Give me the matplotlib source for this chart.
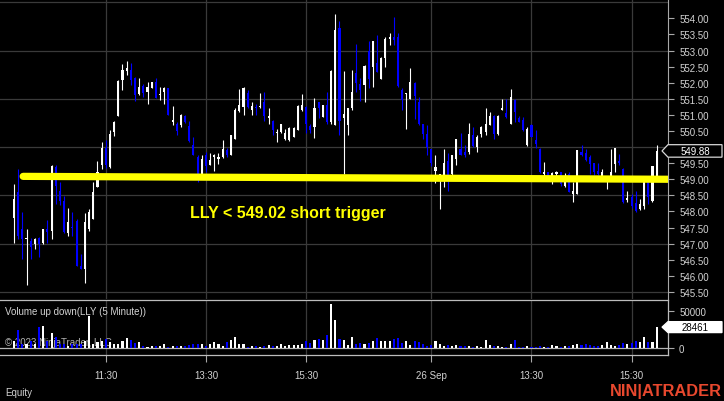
import matplotlib
matplotlib.use("Agg")
import matplotlib.pyplot as plt
import numpy as np
from matplotlib.patches import Polygon

plt.rcParams['font.family'] = ['Liberation Sans', 'DejaVu Sans']

# ---------------- data (LLY, 5 minute bars, 25-26 Sep) ----------------
opens = [
    547.81, 548.61, 547.45, 547.14, 547.08, 546.98, 547.16, 547.03, 547.47, 547.40,
    549.37, 548.65, 548.33, 547.34, 547.53, 547.71, 546.32, 546.22, 547.45, 547.78,
    548.75, 549.43, 549.97, 549.37, 550.47, 550.97, 552.08, 552.35, 552.40, 552.14,
    551.64, 551.91, 551.72, 551.84, 552.01, 551.62, 551.72, 551.82, 550.78, 550.73,
    550.68, 550.97, 550.67, 550.07, 549.69, 549.17, 549.74, 549.45, 549.69, 549.64,
    549.69, 549.90, 549.76, 550.26, 551.11, 551.24, 551.67, 551.15, 551.25, 551.24,
    551.39, 550.89, 550.80, 550.45, 550.47, 550.26, 550.21, 550.31, 550.52, 551.15,
    551.25, 550.66, 550.62, 551.39, 550.94, 551.30, 550.78, 550.68, 553.70, 550.89,
    550.68, 551.20, 552.29, 551.95, 551.93, 552.97, 552.50, 552.60, 552.11, 552.78,
    553.36, 553.41, 553.41, 551.77, 551.64, 551.49, 551.98, 551.41, 550.73, 550.42,
    549.93, 549.27, 549.11, 549.06, 549.58, 549.17, 549.64, 549.95, 549.86, 549.84,
    550.36, 550.00, 550.42, 550.47, 550.70, 550.97, 550.42, 551.15, 551.07, 550.73,
    551.46, 550.89, 550.83, 550.05, 550.68, 550.21, 549.95, 549.17, 549.24, 549.11,
    549.17, 549.22, 548.80, 549.17, 548.54, 548.54, 549.84, 549.82, 549.69, 549.51,
    549.27, 549.11, 549.01, 549.11, 549.48, 549.58, 549.32, 548.36, 548.44, 548.26,
    548.07, 548.18, 548.91, 548.33, 549.11]
highs = [
    548.85, 549.32, 547.97, 547.45, 547.19, 547.19, 547.22, 547.47, 547.74, 549.43,
    549.43, 548.91, 548.49, 548.12, 547.97, 547.76, 546.67, 547.95, 548.07, 548.91,
    549.58, 550.16, 550.21, 550.52, 550.80, 552.08, 552.57, 552.66, 552.60, 552.19,
    552.14, 551.95, 552.01, 552.03, 552.14, 551.87, 551.87, 551.84, 551.28, 550.78,
    551.04, 551.01, 550.80, 550.31, 549.76, 549.76, 549.84, 549.82, 549.79, 549.82,
    550.21, 549.97, 550.39, 551.20, 551.79, 551.87, 551.77, 551.41, 551.35, 551.67,
    551.72, 551.22, 550.83, 550.57, 550.73, 550.57, 550.62, 550.62, 551.30, 551.64,
    551.27, 550.73, 551.53, 551.41, 551.32, 551.72, 552.40, 554.14, 553.91, 552.37,
    551.22, 552.40, 553.20, 552.14, 552.55, 553.28, 553.28, 553.49, 552.81, 553.41,
    553.54, 554.03, 553.54, 551.82, 551.67, 552.45, 552.01, 551.56, 550.73, 550.68,
    549.95, 549.74, 549.17, 549.95, 549.82, 549.74, 550.26, 550.45, 550.05, 550.76,
    550.62, 550.36, 550.66, 551.20, 551.09, 550.99, 550.99, 551.49, 551.49, 551.80,
    551.49, 550.97, 550.94, 550.62, 550.73, 550.52, 549.97, 549.53, 549.24, 549.22,
    549.27, 549.22, 549.20, 549.22, 548.91, 549.90, 550.07, 549.95, 549.76, 549.51,
    549.51, 549.32, 549.11, 549.93, 549.97, 549.79, 549.34, 548.65, 548.54, 548.65,
    548.39, 548.91, 548.93, 549.41, 550.07]
lows = [
    547.03, 547.14, 546.51, 545.73, 546.51, 546.82, 546.59, 546.98, 547.03, 547.14,
    548.23, 548.20, 547.32, 547.24, 547.24, 546.30, 546.20, 545.78, 547.40, 547.76,
    548.75, 549.32, 549.34, 549.34, 550.33, 550.97, 551.77, 552.24, 551.93, 551.43,
    551.62, 551.56, 551.35, 551.84, 551.51, 551.46, 551.35, 551.01, 550.68, 550.36,
    550.63, 550.76, 550.16, 549.74, 548.93, 549.17, 549.22, 549.43, 549.27, 549.48,
    549.66, 549.69, 549.74, 550.24, 551.09, 550.99, 551.22, 551.01, 551.01, 551.20,
    550.80, 550.73, 550.39, 550.16, 550.45, 550.21, 550.18, 550.31, 550.52, 551.11,
    550.45, 550.45, 550.28, 550.91, 550.94, 550.73, 550.73, 550.68, 550.36, 549.17,
    550.36, 551.15, 551.72, 551.43, 551.39, 551.84, 551.87, 552.34, 552.11, 552.50,
    553.18, 553.16, 551.88, 551.15, 550.57, 551.49, 550.86, 550.68, 550.26, 549.76,
    549.41, 548.89, 548.07, 548.75, 548.65, 549.11, 549.43, 549.74, 549.69, 549.79,
    550.00, 549.84, 550.31, 550.39, 550.68, 550.26, 550.39, 551.15, 550.91, 550.73,
    550.78, 550.78, 550.49, 550.03, 550.31, 549.97, 549.20, 549.01, 549.11, 548.85,
    549.01, 548.80, 548.75, 548.59, 548.30, 548.54, 549.72, 549.58, 549.17, 549.14,
    549.14, 549.01, 548.70, 549.11, 549.24, 549.43, 548.26, 548.30, 548.12, 547.99,
    548.05, 548.09, 548.23, 548.30, 549.11]
closes = [
    548.39, 547.24, 547.14, 547.19, 546.91, 547.14, 546.98, 547.47, 547.37, 549.41,
    548.80, 548.33, 547.37, 547.66, 547.49, 546.32, 546.22, 547.66, 547.97, 548.59,
    549.22, 549.97, 549.43, 550.42, 550.78, 552.05, 552.40, 552.45, 552.08, 551.62,
    551.87, 551.67, 551.87, 552.01, 551.53, 551.64, 551.84, 551.01, 550.83, 550.49,
    551.01, 550.78, 550.18, 549.76, 549.17, 549.64, 549.41, 549.61, 549.74, 549.69,
    549.95, 549.74, 550.39, 551.15, 551.30, 551.82, 551.25, 551.28, 551.20, 551.28,
    550.97, 550.97, 550.52, 550.47, 550.73, 550.45, 550.59, 550.59, 551.28, 551.30,
    550.73, 550.52, 551.20, 551.20, 551.32, 550.78, 552.35, 553.65, 550.80, 551.04,
    551.20, 551.72, 551.98, 551.77, 552.53, 552.11, 553.28, 552.34, 552.78, 553.36,
    553.41, 553.33, 551.91, 551.46, 551.67, 552.01, 551.59, 550.73, 550.42, 550.00,
    549.51, 549.38, 549.17, 549.51, 549.14, 549.74, 550.24, 549.76, 549.74, 550.42,
    550.03, 550.31, 550.62, 550.73, 550.97, 550.42, 550.97, 551.20, 550.94, 551.56,
    551.09, 550.78, 550.52, 550.57, 550.31, 550.10, 549.22, 549.24, 549.11, 549.20,
    549.22, 548.85, 549.06, 548.59, 548.65, 549.90, 549.74, 549.61, 549.48, 549.22,
    549.17, 549.22, 549.06, 549.22, 549.97, 549.51, 548.28, 548.41, 548.18, 548.02,
    548.23, 548.91, 548.44, 549.41, 549.88]
volumes = [
    10000, 24500, 5450, 5450, 10000, 5450, 29100, 30000, 10000, 20900,
    14500, 5450, 5450, 3200, 5450, 5450, 5450, 10000, 43600, 5450,
    7700, 10000, 12300, 7700, 5450, 5450, 10000, 13600, 10900, 6400,
    7700, 3200, 1800, 2700, 3200, 3200, 5450, 1800, 3200, 3200,
    2700, 3200, 4100, 5450, 5450, 5450, 3200, 5450, 7700, 5450,
    3200, 7700, 10900, 15500, 5450, 5450, 1800, 3200, 3200, 1800,
    3200, 4100, 3200, 3200, 5450, 3200, 4100, 4100, 4500, 5450,
    9100, 6400, 10900, 11800, 10900, 17300, 60000, 38200, 12300, 10900,
    4500, 15500, 5450, 6400, 5450, 6400, 10000, 13600, 10000, 10000,
    10000, 12300, 13600, 6400, 10000, 4500, 10000, 7700, 5450, 3200,
    4500, 10000, 5450, 3200, 4500, 3200, 4100, 3200, 3200, 3200,
    1800, 3200, 1800, 10900, 4100, 3200, 3200, 1800, 900, 5450,
    10900, 1800, 900, 3200, 1800, 1800, 3200, 900, 1800, 4100,
    3200, 1800, 3200, 3200, 4100, 5450, 4500, 5450, 4100, 3200,
    3200, 4500, 7700, 4500, 3200, 4500, 6400, 5450, 6400, 9100,
    7700, 15500, 8600, 7700, 28461]

time_label_bars = [22, 46, 70, 100, 124, 148]
time_labels = ['11:30', '13:30', '15:30', '26 Sep', '13:30', '15:30']
price_ticks = [545.5, 546.0, 546.5, 547.0, 547.5, 548.0, 548.5, 549.0, 549.5,
               550.0, 550.5, 551.0, 551.5, 552.0, 552.5, 553.0, 553.5, 554.0]
price_grid = [545.5, 547.0, 548.5, 550.0, 551.5, 553.0, 554.5]
volume_ticks = [0, 50000]
trigger_line_y = [549.09, 549.00]
trigger_line_x = [2.2, 156.7]
trigger_text = 'LLY < 549.02 short trigger'

# ---------------- figure ----------------
W, H = 724, 402
BG = '#000000'
GRID = '#3a3a3a'
TXT = '#d2d2d2'
AXC = '#a8a8a8'
UP = '#ffffff'
DN = '#0000ff'

fig = plt.figure(figsize=(W / 100, H / 100), dpi=100, facecolor=BG)
ax = fig.add_axes([0, 1 - 300 / H, 668 / W, 300 / H], facecolor=BG)
axv = fig.add_axes([0, 1 - 356 / H, 668 / W, 55 / H], facecolor=BG)

n = len(closes)
x = np.arange(n)
o = np.array(opens); c = np.array(closes)
hi = np.array(highs); lo = np.array(lows)
up = c >= o
cols = np.where(up, UP, DN)

xl = (-3.355, 156.72)
for a in (ax, axv):
    a.set_xlim(*xl)
    for t in time_label_bars:
        a.axvline(t, color=GRID, lw=0.9, zorder=0)
    for s in a.spines.values():
        s.set_visible(False)

ax.set_ylim(545.28, 554.6)
for g in price_grid:
    ax.axhline(g, color=GRID, lw=0.9, zorder=0)

# candles
ax.vlines(x, lo, hi, colors=cols, lw=0.8, zorder=2)
body = c - o
body = np.where(np.abs(body) < 0.02, 0.02, body)
ax.bar(x, body, bottom=o, width=0.5, color=cols, lw=0, zorder=3)

# trigger line and text
ax.plot(trigger_line_x, trigger_line_y, color='#ffff00', lw=5.2,
        solid_capstyle='round', zorder=4)
ax.text(42.2, 547.98, trigger_text, color='#ffff00', fontsize=11.5,
        fontweight='bold', ha='left', va='center', zorder=5)

# price axis on right (the label hidden under the last-price flag is left blank)
last = closes[-1]
ax.yaxis.tick_right()
ax.set_yticks(price_ticks)
ax.set_yticklabels(['' if abs(p - last) < 0.2 else f'{p:.2f}' for p in price_ticks])
ax.tick_params(axis='y', colors=AXC, labelcolor=TXT, labelsize=7, length=4,
               width=0.8, pad=4, right=True, left=False)
ax.set_xticks([])
ax.spines['right'].set_visible(True)
ax.spines['right'].set_color(AXC)
ax.spines['right'].set_linewidth(0.8)

# volume panel
axv.set_ylim(-9540, 65400)
axv.axhline(0, color='#b4b4b4', lw=0.9, zorder=1)
axv.bar(x, volumes, width=0.5, color=cols, lw=0, zorder=3)
axv.yaxis.tick_right()
axv.set_yticks(volume_ticks)
axv.set_yticklabels([str(v) for v in volume_ticks])
axv.tick_params(axis='y', colors=AXC, labelcolor=TXT, labelsize=7, length=4,
                width=0.8, pad=4)
axv.set_xticks(time_label_bars)
axv.set_xticklabels(time_labels)
axv.tick_params(axis='x', colors=AXC, labelcolor=TXT, labelsize=7, length=5,
                width=0.8, pad=6)
for sp in ('top', 'bottom', 'right'):
    axv.spines[sp].set_visible(True)
    axv.spines[sp].set_color('#bcbcbc')
    axv.spines[sp].set_linewidth(0.9)

# panel texts
axv.text(5 / W, 1 - 312 / H, 'Volume up down(LLY (5 Minute))', transform=fig.transFigure,
         color=TXT, fontsize=7, ha='left', va='center', zorder=0.5)
axv.text(5 / W, 1 - 343 / H, '\u00a9 2023 NinjaTrader, LLC', transform=fig.transFigure,
         color='#b0b0b0', fontsize=7, ha='left', va='center', zorder=0.5)
fig.text(5 / W, 1 - 393 / H, 'Equity', color=TXT, fontsize=7, ha='left', va='center')
fig.text(722 / W, 1 - 392 / H, 'NIN|ATRADER', color='#e8482e', fontsize=11.8,
         fontweight='bold', ha='right', va='center')

# value flags on the axis
def flag(axis, yval, text, face, edge, tcolor, hpx):
    yd = axis.transData.transform((0, yval))[1]
    x_tip, x_box, x_end = 662, 668, 722
    pts = [(x_tip, yd), (x_box, yd + hpx / 2), (x_end, yd + hpx / 2),
           (x_end, yd - hpx / 2), (x_box, yd - hpx / 2)]
    pts = [(px / W, py / H) for px, py in pts]
    fig.patches.append(Polygon(pts, closed=True, transform=fig.transFigure,
                               facecolor=face, edgecolor=edge, lw=0.9, zorder=6))
    fig.text(695 / W, yd / H, text, color=tcolor, fontsize=7, ha='center',
             va='center', zorder=7)

flag(ax, last, f'{last:.2f}', '#000000', '#d8d8d8', '#ffffff', 12.5)
flag(axv, volumes[-1], str(volumes[-1]), '#ffffff', '#ffffff', '#000000', 11)

fig.savefig('out.png', dpi=100, facecolor=BG)
